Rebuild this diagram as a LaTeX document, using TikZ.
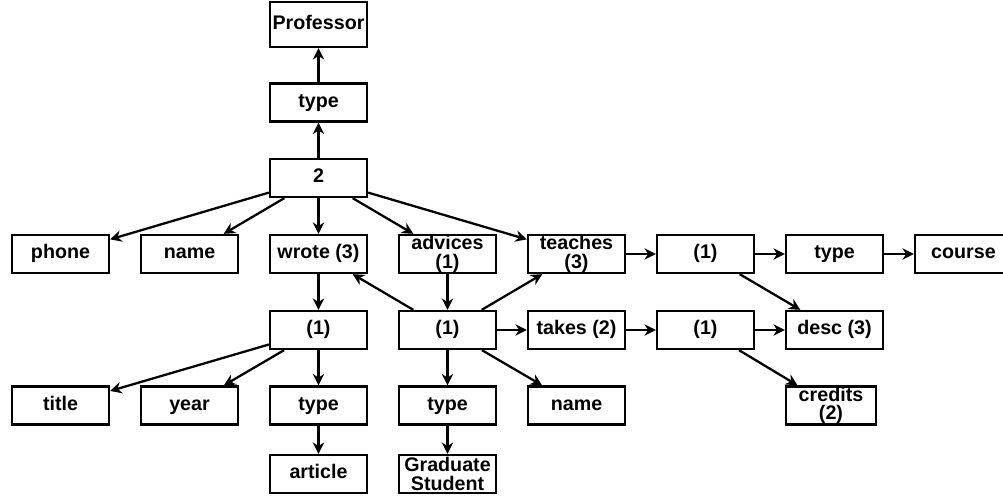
\documentclass[tikz,border=0pt]{standalone}
\usepackage{fontspec}
\setmainfont{Liberation Sans}
\usepackage{tikz}
\usetikzlibrary{arrows.meta}

\begin{document}
\begin{tikzpicture}[
		b/.style = {draw, line width=1.3pt, minimum width=1.94cm, minimum height=0.76cm, inner sep=0pt, text height=0.73em, text depth=0.21em, font=\bfseries\fontsize{11.2}{10.5}\selectfont},
		bb/.style = {draw, line width=1.3pt, minimum width=1.94cm, minimum height=0.76cm, inner sep=0pt, align=center, font=\bfseries\fontsize{11.2}{10.5}\selectfont},
		r/.style = {-{Stealth[length=6.5pt, width=6.5pt]}, line width=1.3pt},
		]
		\useasboundingbox (0, 0) rectangle (20.06, 9.9);

		\node[b, minimum height=0.9cm]	(prof)	at (6.37, 9.41)	{Professor};
		\node[b]	(ptype)		at (6.37, 7.85)	{type};
		\node[b]	(two)		at (6.37, 6.34)	{2};

		\node[b]	(phone)		at (1.21, 4.82)	{phone};
		\node[b]	(pname)		at (3.79, 4.82)	{name};
		\node[b]	(wrote)		at (6.37, 4.82)	{wrote (3)};
		\node[bb]	(advices)	at (8.95, 4.82)	{advices\\(1)};
		\node[bb]	(teaches)	at (11.53, 4.82)	{teaches\\(3)};
		\node[b]	(course1)	at (14.11, 4.82)	{(1)};
		\node[b]	(ctype)		at (16.69, 4.82)	{type};
		\node[b]	(course)	at (19.27, 4.82)	{course};

		\node[b]	(article1)	at (6.37, 3.30)	{(1)};
		\node[b]	(student)	at (8.95, 3.30)	{(1)};
		\node[b]	(takes)		at (11.53, 3.30)	{takes (2)};
		\node[b]	(course2)	at (14.11, 3.30)	{(1)};
		\node[b]	(desc)		at (16.69, 3.30)	{desc (3)};

		\node[b]	(title)		at (1.21, 1.79)	{title};
		\node[b]	(year)		at (3.79, 1.79)	{year};
		\node[b]	(atype)		at (6.37, 1.79)	{type};
		\node[b]	(stype)		at (8.95, 1.79)	{type};
		\node[b]	(sname)		at (11.53, 1.79)	{name};
		\node[bb, minimum width=1.8cm]	(credits)	at (16.62, 1.79)	{credits\\(2)};

		\node[b]	(article)	at (6.37, 0.42)	{article};
		\node[bb]	(grad)		at (8.95, 0.42)	{Graduate\\Student};

		\draw[r]	(ptype)		to	(prof);
		\draw[r]	(two)		to	(ptype);
		\draw[r]	(two)		to	(phone);
		\draw[r]	(two)		to	(pname);
		\draw[r]	(two)		to	(wrote);
		\draw[r]	(two)		to	(advices);
		\draw[r]	(two)		to	(teaches);

		\draw[r]	(wrote)		to	(article1);
		\draw[r]	(article1)	to	(title);
		\draw[r]	(article1)	to	(year);
		\draw[r]	(article1)	to	(atype);
		\draw[r]	(atype)		to	(article);

		\draw[r]	(advices)	to	(student);
		\draw[r]	(student)	to	(wrote);
		\draw[r]	(student)	to	(teaches);
		\draw[r]	(student)	to	(takes);
		\draw[r]	(student)	to	(stype);
		\draw[r]	(student)	to	(sname);
		\draw[r]	(stype)		to	(grad);

		\draw[r]	(teaches)	to	(course1);
		\draw[r]	(course1)	to	(ctype);
		\draw[r]	(ctype)		to	(course);
		\draw[r]	(course1)	to	(desc);
		\draw[r]	(takes)		to	(course2);
		\draw[r]	(course2)	to	(desc);
		\draw[r]	(course2)	to	(credits);
	\end{tikzpicture}
\end{document}
